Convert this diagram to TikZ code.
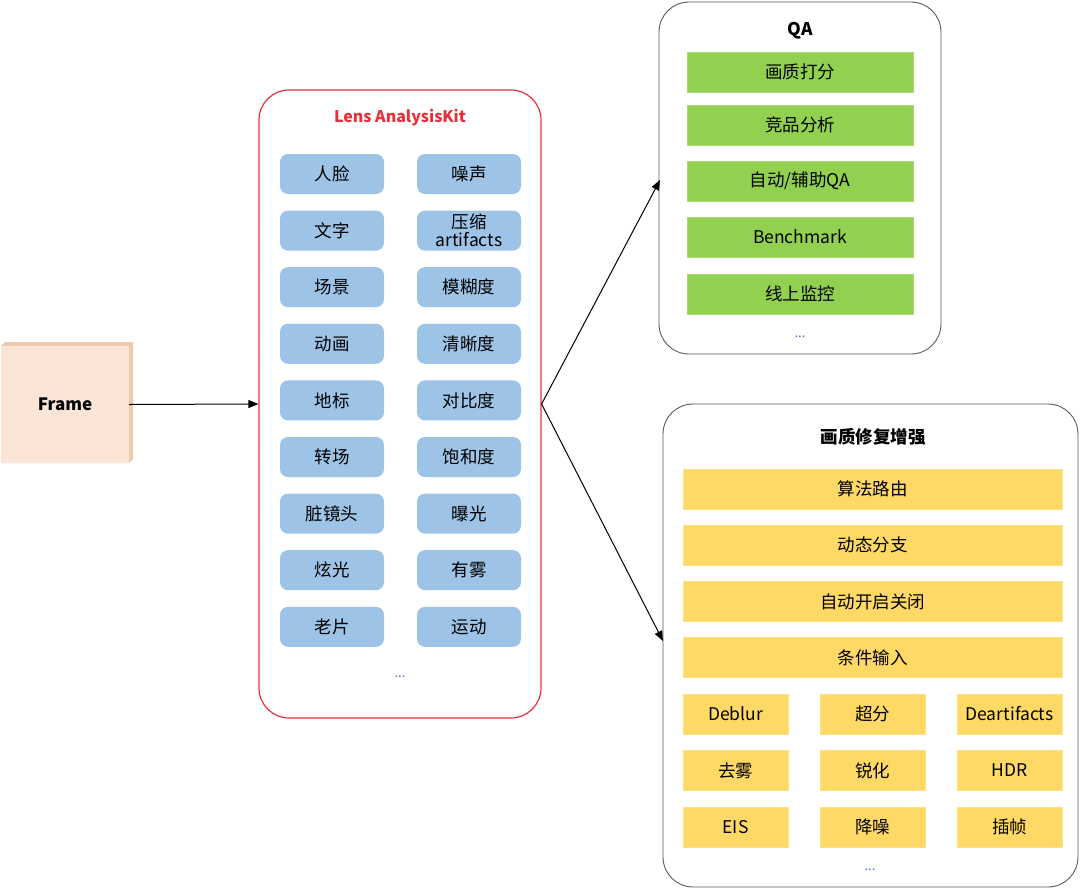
\documentclass[tikz,border=0pt]{standalone}
\usepackage{fontspec}
\setmainfont{Noto Sans CJK SC}
\usetikzlibrary{arrows.meta}
\definecolor{peach}{HTML}{FBE5D6}
\definecolor{peachside}{HTML}{F1C9AC}
\definecolor{blueb}{HTML}{9DC3E6}
\definecolor{greenb}{HTML}{92D050}
\definecolor{yellowb}{HTML}{FFD966}
\definecolor{redb}{HTML}{E8303A}
\definecolor{grayb}{HTML}{5A5A5A}
\definecolor{dotc}{HTML}{4472C4}
\tikzset{
  x=1pt,y=-1pt,
  txt/.style={font=\fontsize{17.5}{20}\selectfont, text=black, align=center},
  bluebox/.style={txt, fill=blueb, rounded corners=8pt, minimum width=104pt, minimum height=40pt, inner sep=0pt},
  greenbox/.style={txt, fill=greenb, draw=greenb!80!white, minimum width=226pt, minimum height=40pt, inner sep=0pt},
  wideyel/.style={txt, fill=yellowb, draw=yellowb!80!white, minimum width=379pt, minimum height=40pt, inner sep=0pt},
  smallyel/.style={txt, fill=yellowb, draw=yellowb!80!white, minimum width=105pt, minimum height=40pt, inner sep=0pt},
  panel/.style={draw=grayb, line width=0.9pt, rounded corners=30pt, fill=white},
  ttl/.style={font=\fontsize{17.5}{20}\selectfont\bfseries},
  dots/.style={font=\fontsize{13}{14}\selectfont, text=dotc},
  arr/.style={-{Triangle[length=10pt,width=8pt]}, line width=1pt, black}
}
\begin{document}
\begin{tikzpicture}
\useasboundingbox (0,0) rectangle (1080,889);
% Frame
\fill[peachside] (1,346) -- (5,342) -- (133,342) -- (133,459) -- (129,463) -- (1,463) -- cycle;
\node[fill=peach, minimum width=128pt, minimum height=117pt, inner sep=0pt, font=\fontsize{17}{20}\selectfont\bfseries] (frame) at (65,404.5) {Frame};
% Lens panel
\node[draw=redb, line width=1.2pt, rounded corners=30pt, minimum width=282pt, minimum height=628pt, inner sep=0pt] (lens) at (400,404) {};
\node[font=\fontsize{16}{18}\selectfont\bfseries, text=redb] (lenst) at (400,118) {Lens AnalysisKit};
\foreach \l/\r [count=\i from 0] in {人脸/噪声, 文字/{压缩\\[-2pt]artifacts}, 场景/模糊度, 动画/清晰度, 地标/对比度, 转场/饱和度, 脏镜头/曝光, 炫光/有雾, 老片/运动}{
  \node[bluebox] (bl\i) at (332,174+56.6*\i) {\l};
  \node[bluebox] (br\i) at (469,174+56.6*\i) {\r};
}
\node[dots] (lensdots) at (400,677) {...};
% QA panel
\node[panel, minimum width=282pt, minimum height=352pt, inner sep=0pt] (qa) at (800,178) {};
\node[ttl] (qat) at (800,31) {QA};
\foreach \t/\yy [count=\i from 0] in {画质打分/72, 竞品分析/125, {自动/辅助QA}/181, Benchmark/237, 线上监控/294}{
  \node[greenbox] (g\i) at (800,\yy) {\t};
}
\node[dots] (qadots) at (800,337) {...};
% Enhancement panel
\node[panel, minimum width=415pt, minimum height=483pt, inner sep=0pt] (enh) at (870.5,645.5) {};
\node[ttl] (enht) at (873,437) {画质修复增强};
\foreach \t [count=\i from 0] in {算法路由, 动态分支, 自动开启关闭, 条件输入}{
  \node[wideyel] (y\i) at (872.5,489+56.2*\i) {\t};
}
\foreach \a/\b/\c [count=\i from 0] in {Deblur/超分/Deartifacts, 去雾/锐化/HDR, EIS/降噪/插帧}{
  \node[smallyel] (s\i a) at (735.5,714+56.5*\i) {\a};
  \node[smallyel] (s\i b) at (872.5,714+56.5*\i) {\b};
  \node[smallyel] (s\i c) at (1009.5,714+56.5*\i) {\c};
}
\node[dots] (enhdots) at (870,870) {...};
% connectors
\coordinate (qain) at (660,180);
\coordinate (enhin) at (663,641);
\draw[arr] (frame.east) -- (lens.west);
\draw[arr] (lens.east) -- (qain);
\draw[arr] (lens.east) -- (enhin);
\end{tikzpicture}
\end{document}
